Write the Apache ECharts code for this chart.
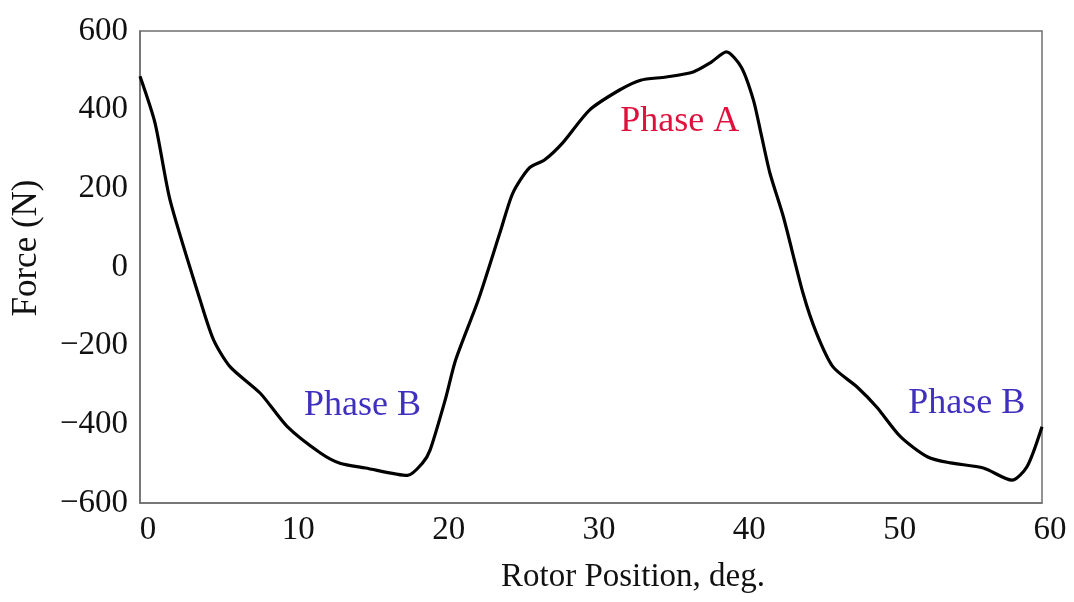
<!DOCTYPE html>
<html>
<head>
<meta charset="utf-8">
<script src="https://cdn.jsdelivr.net/npm/echarts@6/dist/echarts.min.js"></script>
<style>
html,body{margin:0;padding:0;background:#fff;}
#chart{width:1074px;height:602px;}
</style>
</head>
<body>
<div id="chart"></div>
<script>
// Rotor position (deg) and force (N)
const positions = [0, 1, 2, 4, 4.9, 6, 8, 9.8, 12, 13.3, 15, 17.8, 18.8, 19.3, 20.3, 21, 22.5, 24, 24.8, 25.9, 26.9, 28.1, 29.9, 31.9, 33.3, 35, 36.8, 38, 39, 40, 40.8, 41.3, 41.9, 42.8, 44.1, 45, 46.1, 47.7, 49, 50.6, 52.4, 53.9, 56.1, 58, 59, 60];
const forces = [485, 366, 170, -84, -186, -254, -321, -406, -473, -499, -511, -530, -498, -465, -338, -236, -84, 94, 188, 252, 272, 315, 399, 450, 475, 483, 496, 521, 547, 508, 425, 341, 239, 127, -66, -168, -254, -305, -356, -432, -483, -498, -511, -542, -508, -406];

// Annotations
const labelTexts = ['Phase A', 'Phase B', 'Phase B'];
const labelX = [35.9, 14.8, 55.0];
const labelY = [369, -353, -348];
const labelColors = ['#e0103c', '#3f30c0', '#3f30c0'];

const xTicks = [0, 10, 20, 30, 40, 50, 60];
const yTicks = [-600, -400, -200, 0, 200, 400, 600];

const serif = "'Liberation Serif', 'Times New Roman', serif";

const chart = echarts.init(document.getElementById('chart'), null, {renderer: 'canvas'});
chart.setOption({
  animation: false,
  backgroundColor: '#fff',
  grid: {
    left: 140, right: 32, top: 31, bottom: 99,
    show: true, borderColor: '#6f6f6f', borderWidth: 1.5, backgroundColor: 'transparent'
  },
  xAxis: {
    type: 'value', min: xTicks[0], max: xTicks[xTicks.length - 1], interval: 10,
    name: 'Rotor Position, deg.', nameLocation: 'middle', nameGap: 58,
    nameTextStyle: {fontFamily: serif, fontSize: 33, color: '#111', padding: [0, 0, 0, 84]},
    axisLine: {show: true, onZero: false, lineStyle: {color: '#6f6f6f', width: 1.5}},
    axisTick: {show: false},
    splitLine: {show: false},
    axisLabel: {fontFamily: serif, fontSize: 33, color: '#111', margin: 11, padding: [0, 0, 0, 16]}
  },
  yAxis: {
    type: 'value', min: yTicks[0], max: yTicks[yTicks.length - 1], interval: 200,
    name: 'Force (N)', nameLocation: 'middle', nameGap: 96, nameRotate: 90,
    nameTextStyle: {fontFamily: serif, fontSize: 35, color: '#111', padding: [0, 0, 0, 38]},
    axisLine: {show: true, onZero: false, lineStyle: {color: '#6f6f6f', width: 1.5}},
    axisTick: {show: false},
    splitLine: {show: false},
    axisLabel: {
      fontFamily: serif, fontSize: 33, color: '#111', margin: 12, padding: [0, 0, 12, 0],
      formatter: v => (v < 0 ? '\u2212' + Math.abs(v) : String(v))
    }
  },
  series: [
    {
      type: 'line',
      data: positions.map((x, i) => [x, forces[i]]),
      smooth: 0.25,
      showSymbol: false,
      lineStyle: {color: '#000', width: 3.2},
      z: 3
    },
    {
      type: 'scatter',
      symbolSize: 0,
      itemStyle: {opacity: 1},
      data: labelTexts.map((t, i) => ({
        value: [labelX[i], labelY[i]],
        label: {
          show: true, position: 'inside', formatter: t,
          fontFamily: serif, fontSize: 36, color: labelColors[i], opacity: 1
        }
      })),
      z: 4
    }
  ]
});
</script>
</body>
</html>
